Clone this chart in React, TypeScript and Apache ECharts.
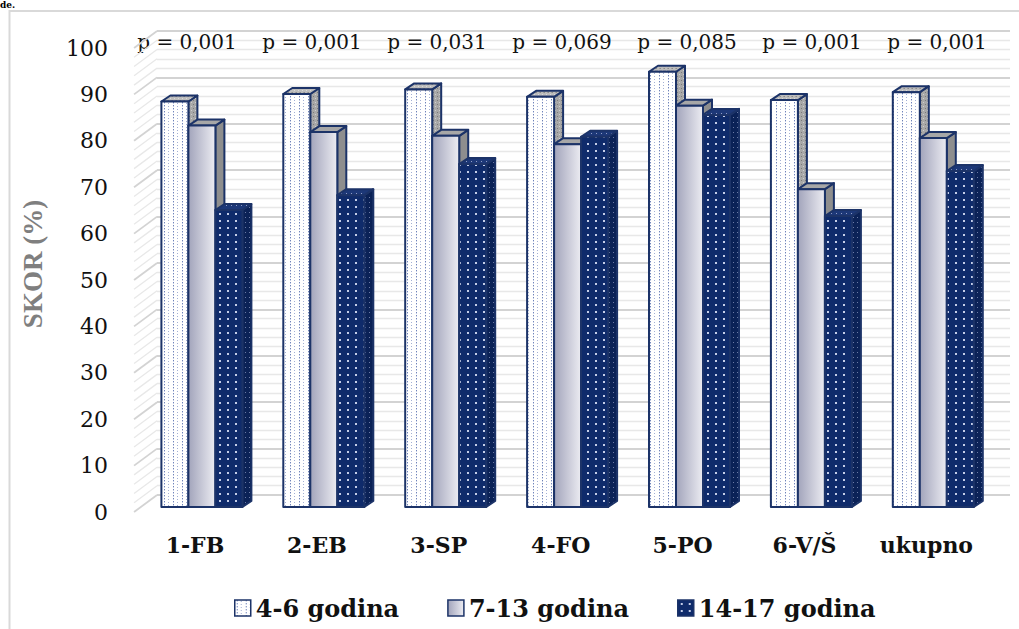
import React, { useEffect, useRef } from "react";
import * as echarts from "echarts";

// ---------- data ----------
const categories = ["1-FB", "2-EB", "3-SP", "4-FO", "5-PO", "6-V/Š", "ukupno"];
const seriesNames = ["4-6 godina", "7-13 godina", "14-17 godina"];
const age4to6 = [87.4, 89.0, 90.0, 88.4, 93.8, 87.7, 89.4];
const age7to13 = [82.2, 80.8, 80.0, 78.2, 86.5, 68.5, 79.5];
const age14to17 = [64.0, 67.2, 73.9, 79.8, 84.5, 62.7, 72.4];
const pValues = ["0,001", "0,001", "0,031", "0,069", "0,085", "0,001", "0,001"];
const yMin = 0;
const yMax = 100;
const yInterval = 10;
const minorStep = 2;

// ---------- styling helpers ----------
const NAVY = "#1c3368";

function makePattern(w: number, h: number, bg: string, dots: [number, number, number, number, string][]) {
  const c = document.createElement("canvas");
  c.width = w;
  c.height = h;
  const ctx = c.getContext("2d")!;
  ctx.fillStyle = bg;
  ctx.fillRect(0, 0, w, h);
  dots.forEach(([x, y, dw, dh, col]) => {
    ctx.fillStyle = col;
    ctx.fillRect(x, y, dw, dh);
  });
  return { image: c, repeat: "repeat", imageWidth: w, imageHeight: h } as any;
}

export default function App() {
  const ref = useRef<HTMLDivElement>(null);

  useEffect(() => {
    if (!ref.current) return;
    const chart = echarts.init(ref.current, null, { renderer: "svg" });

    const s1Front = makePattern(9, 3, "#ffffff", [
      [2, 0, 1, 1, "#7084ba"],
      [2, 1, 1, 1, "#c4cce4"],
      [6, 1, 1, 1, "#a3b0d4"],
    ]);
    const s1Top = makePattern(4, 4, "#bcbcbc", [
      [0, 0, 1, 1, "#8c8c8c"],
      [2, 2, 1, 1, "#dadada"],
      [3, 0, 1, 1, "#a0a0a0"],
    ]);
    const s1Side = makePattern(4, 4, "#a8a8a8", [
      [1, 0, 1, 1, "#7a7a7a"],
      [3, 2, 1, 1, "#cfcfcf"],
    ]);
    const s2Front = new echarts.graphic.LinearGradient(0, 0, 1, 0, [
      { offset: 0, color: "#a2a4bb" },
      { offset: 1, color: "#ececf2" },
    ]);
    const s2Top = "#a7a7a7";
    const s2Side = "#8e8e8e";
    const s3Front = makePattern(8, 7, "#0f2b6b", [[3, 3, 2, 2, "#c5cee8"]]);
    const s3Top = makePattern(5, 4, "#1d3878", [[1, 1, 1, 1, "#8f9cc4"]]);
    const s3Side = makePattern(4, 5, "#0b2257", [[1, 2, 1, 1, "#6b7aa6"]]);

    const fills = [
      [s1Front, s1Top, s1Side],
      [s2Front, s2Top, s2Side],
      [s3Front, s3Top, s3Side],
    ];
    const values = [age4to6, age7to13, age14to17];

    const BAR_W = 27 / 121.9;
    const GROUP_OFF = 33.6 / 121.9;
    const DX = 9;
    const DY = -6;
    const LIFT = 5;

    const makeRender = (k: number) => (params: any, api: any) => {
      const i = api.value(0);
      const v = api.value(1);
      const bw = api.size([1, 0])[0];
      const c = api.coord([i, v]);
      const b = api.coord([i, 0]);
      const w = bw * BAR_W;
      const x0 = b[0] - bw * GROUP_OFF + k * w;
      const yt = c[1] - LIFT;
      const yb = b[1] - LIFT;
      const st = { stroke: NAVY, lineWidth: 2, lineJoin: "round" };
      const [front, top, side] = fills[k];
      return {
        type: "group",
        children: [
          {
            type: "polygon",
            shape: { points: [[x0 + w, yt], [x0 + w + DX, yt + DY], [x0 + w + DX, yb + DY], [x0 + w, yb]] },
            style: { ...st, fill: side },
          },
          {
            type: "polygon",
            shape: { points: [[x0, yt], [x0 + w, yt], [x0 + w + DX, yt + DY], [x0 + DX, yt + DY]] },
            style: { ...st, fill: top },
          },
          {
            type: "rect",
            shape: { x: x0, y: yt, width: w, height: yb - yt },
            style: { ...st, fill: front },
          },
        ],
      };
    };

    const gridTicks: number[] = [];
    for (let t = yMin; t <= yMax; t += minorStep) gridTicks.push(t);

    const barSeries = values.map((vals, k) => ({
      type: "custom",
      name: seriesNames[k],
      xAxisIndex: 0,
      yAxisIndex: 0,
      z: 10 + k,
      itemStyle: { color: k === 1 ? "#c8c9d6" : k === 0 ? "#ffffff" : "#0f2b6b" },
      renderItem: makeRender(k),
      data: vals.map((v, i) => [i, v]),
      encode: { x: 0, y: 1 },
    }));

    const sideWall = {
      type: "custom",
      name: "sidewall",
      xAxisIndex: 0,
      yAxisIndex: 0,
      z: 1,
      silent: true,
      renderItem: (params: any, api: any) => {
        const v = api.value(1);
        const p = api.coord([0, v]);
        const x = params.coordSys.x;
        const major = v % yInterval === 0;
        return {
          type: "line",
          shape: { x1: x, y1: p[1], x2: x + 23, y2: p[1] - 17 },
          style: { stroke: major ? "#d3d3d3" : "#e8e8e8", lineWidth: major ? 1.8 : 1.3 },
        };
      },
      data: gridTicks.map((t) => [0, t]),
      encode: { x: 0, y: 1 },
    };

    const serifFont = "DejaVu Serif";

    chart.setOption({
      animation: false,
      backgroundColor: "#ffffff",
      grid: [
        { left: 134.05, right: 31.65, top: 48, bottom: 117 },
        { left: 157, right: 9, top: 31, bottom: 134 },
        { left: 124.5, right: 19.5, top: 56, height: 10 },
      ],
      xAxis: [
        {
          type: "category",
          gridIndex: 0,
          data: categories,
          axisLine: { show: false },
          axisTick: { show: false },
          axisLabel: {
            margin: 22,
            fontFamily: serifFont,
            fontWeight: "bold",
            fontSize: 22,
            color: "#111111",
          },
        },
        { type: "value", gridIndex: 1, show: false, min: 0, max: 1 },
        {
          type: "category",
          gridIndex: 2,
          position: "top",
          data: pValues.map((p) => "p = " + p),
          axisLine: { show: false },
          axisTick: { show: false },
          axisLabel: { interval: 0, margin: 4, fontFamily: serifFont, fontSize: 20, color: "#111111" },
        },
      ],
      yAxis: [
        {
          type: "value",
          gridIndex: 0,
          min: yMin,
          max: yMax,
          interval: yInterval,
          axisLine: { show: false },
          axisTick: { show: false },
          splitLine: { show: false },
          axisLabel: { margin: 26, fontFamily: serifFont, fontSize: 22, color: "#111111" },
        },
        {
          type: "value",
          gridIndex: 1,
          min: yMin,
          max: yMax,
          interval: yInterval,
          axisLine: { show: false },
          axisTick: { show: false },
          axisLabel: { show: false },
          splitLine: { show: true, lineStyle: { color: "#d3d3d3", width: 1.8 } },
          minorTick: { show: false, splitNumber: yInterval / minorStep },
          minorSplitLine: { show: true, lineStyle: { color: "#e8e8e8", width: 1.3 } },
        },
        { type: "value", gridIndex: 2, show: false },
      ],
      legend: {
        left: 229,
        top: 591,
        itemWidth: 16,
        itemHeight: 16,
        itemGap: 48,
        textStyle: { fontFamily: serifFont, fontWeight: "bold", fontSize: 24, color: "#111111" },
        data: seriesNames.map((n, k) => ({
          name: n,
          icon: "rect",
          itemStyle: { color: fills[k][0], borderColor: NAVY, borderWidth: 1.5 },
        })),
      },
      graphic: [
        {
          type: "rect",
          z: -10,
          shape: { x: 9.5, y: 11, width: 1040, height: 660 },
          style: { fill: "none", stroke: "#d9d9d9", lineWidth: 2 },
        },
        {
          type: "text",
          x: 33,
          y: 264,
          rotation: Math.PI / 2,
          style: {
            text: "SKOR (%)",
            font: 'bold 27px "Liberation Serif"',
            fill: "#7f7f7f",
            align: "center",
            verticalAlign: "middle",
          },
        },
        {
          type: "text",
          x: 0,
          y: 0,
          style: {
            text: "de.",
            font: 'bold 9px "DejaVu Serif"',
            fill: "#000000",
            align: "left",
            verticalAlign: "top",
          },
        },
      ],
      series: [sideWall, ...barSeries],
    });

    return () => chart.dispose();
  }, []);

  return (
    <div
      ref={ref}
      style={{ position: "fixed", left: 0, top: 0, width: 1019, height: 629, background: "#ffffff" }}
    />
  );
}
